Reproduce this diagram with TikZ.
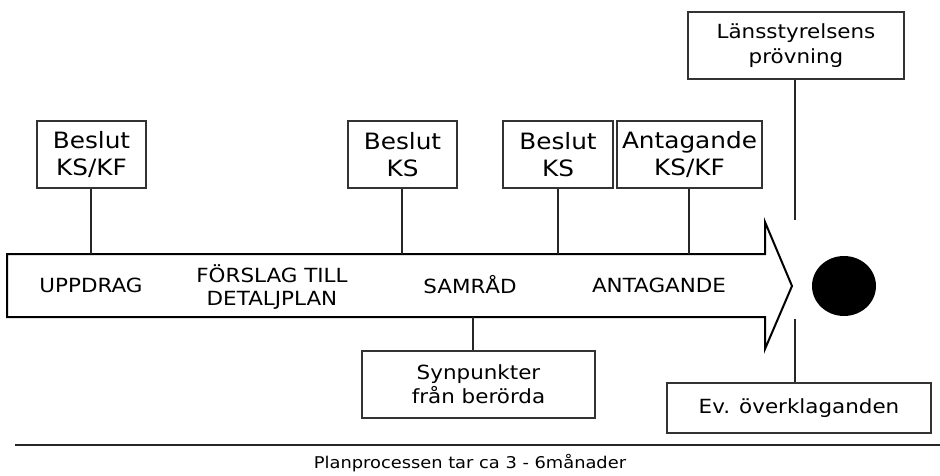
\documentclass[tikz,border=0pt]{standalone}
\usepackage{fontspec}
\setmainfont[FakeStretch=1.1]{DejaVu Sans}
\begin{document}
\begin{tikzpicture}[x=1pt,y=-1pt,
  box/.style={draw=black!80,line width=1.1pt,fill=white,align=center,inner sep=0pt},
  topbox/.style={box,minimum height=67pt,font=\fontsize{22.5}{27.5}\selectfont},
  midbox/.style={box,font=\fontsize{19.5}{24.3}\selectfont},
  conn/.style={draw=black!85,line width=1.5pt},
  phase/.style={align=center,font=\fontsize{19.5}{22.7}\selectfont}]
\useasboundingbox (0,0) rectangle (940,476);
% arrow
\draw[line width=2pt,line join=miter] (7,254) -- (765,254) -- (765,222) -- (792,286) -- (765,349) -- (765,317) -- (7,317) -- cycle;
% anchor points on the arrow
\coordinate (a1) at (91,254);
\coordinate (a2) at (402,254);
\coordinate (a3) at (558,254);
\coordinate (a4) at (689,254);
\coordinate (b1) at (473,317);
\coordinate (l1) at (795,220);
\coordinate (e1) at (795,319);
% boxes
\node[topbox,minimum width=109pt] (k1) at (91.5,154.5) {Beslut\\KS/KF};
\node[topbox,minimum width=109pt] (k2) at (402.5,154.5) {Beslut\\KS};
\node[topbox,minimum width=110pt] (k3) at (558,154.5) {Beslut\\KS};
\node[topbox,minimum width=145pt] (k4) at (689.5,154.5) {Antagande\\KS/KF};
\node[midbox,minimum width=216pt,minimum height=67pt] (ls) at (796,45.5) {Länsstyrelsens\\prövning};
\node[midbox,minimum width=233pt,minimum height=67pt] (sp) at (478.5,384.5) {Synpunkter\\från berörda};
\node[midbox,minimum width=264pt,minimum height=50pt] (ev) at (799,408) {Ev. överklaganden};
% connectors
\draw[conn] (a1 |- k1.south) -- (a1);
\draw[conn] (a2 |- k2.south) -- (a2);
\draw[conn] (a3 |- k3.south) -- (a3);
\draw[conn] (a4 |- k4.south) -- (a4);
\draw[conn] (l1 |- ls.south) -- (l1);
\draw[conn] (b1) -- (b1 |- sp.north);
\draw[conn] (e1) -- (e1 |- ev.north);
% phases
\node[phase] (p1) at (91,285) {UPPDRAG};
\node[phase] (p2) at (272,287) {FÖRSLAG TILL\\DETALJPLAN};
\node[phase] (p3) at (470,285) {SAMRÅD};
\node[phase] (p4) at (659,285) {ANTAGANDE};
% end dot
\fill[black] (844,286) ellipse [x radius=32pt,y radius=30pt];
\node[inner sep=0pt] (end) at (844,286) {};
% time line
\coordinate (t0) at (15,445);
\coordinate (t1) at (940,445);
\draw[line width=2pt,black!85] (t0) -- (t1);
\node[font=\fontsize{16.2}{19}\selectfont] (tt) at (470,463) {Planprocessen tar ca 3 - 6månader};
\end{tikzpicture}
\end{document}
